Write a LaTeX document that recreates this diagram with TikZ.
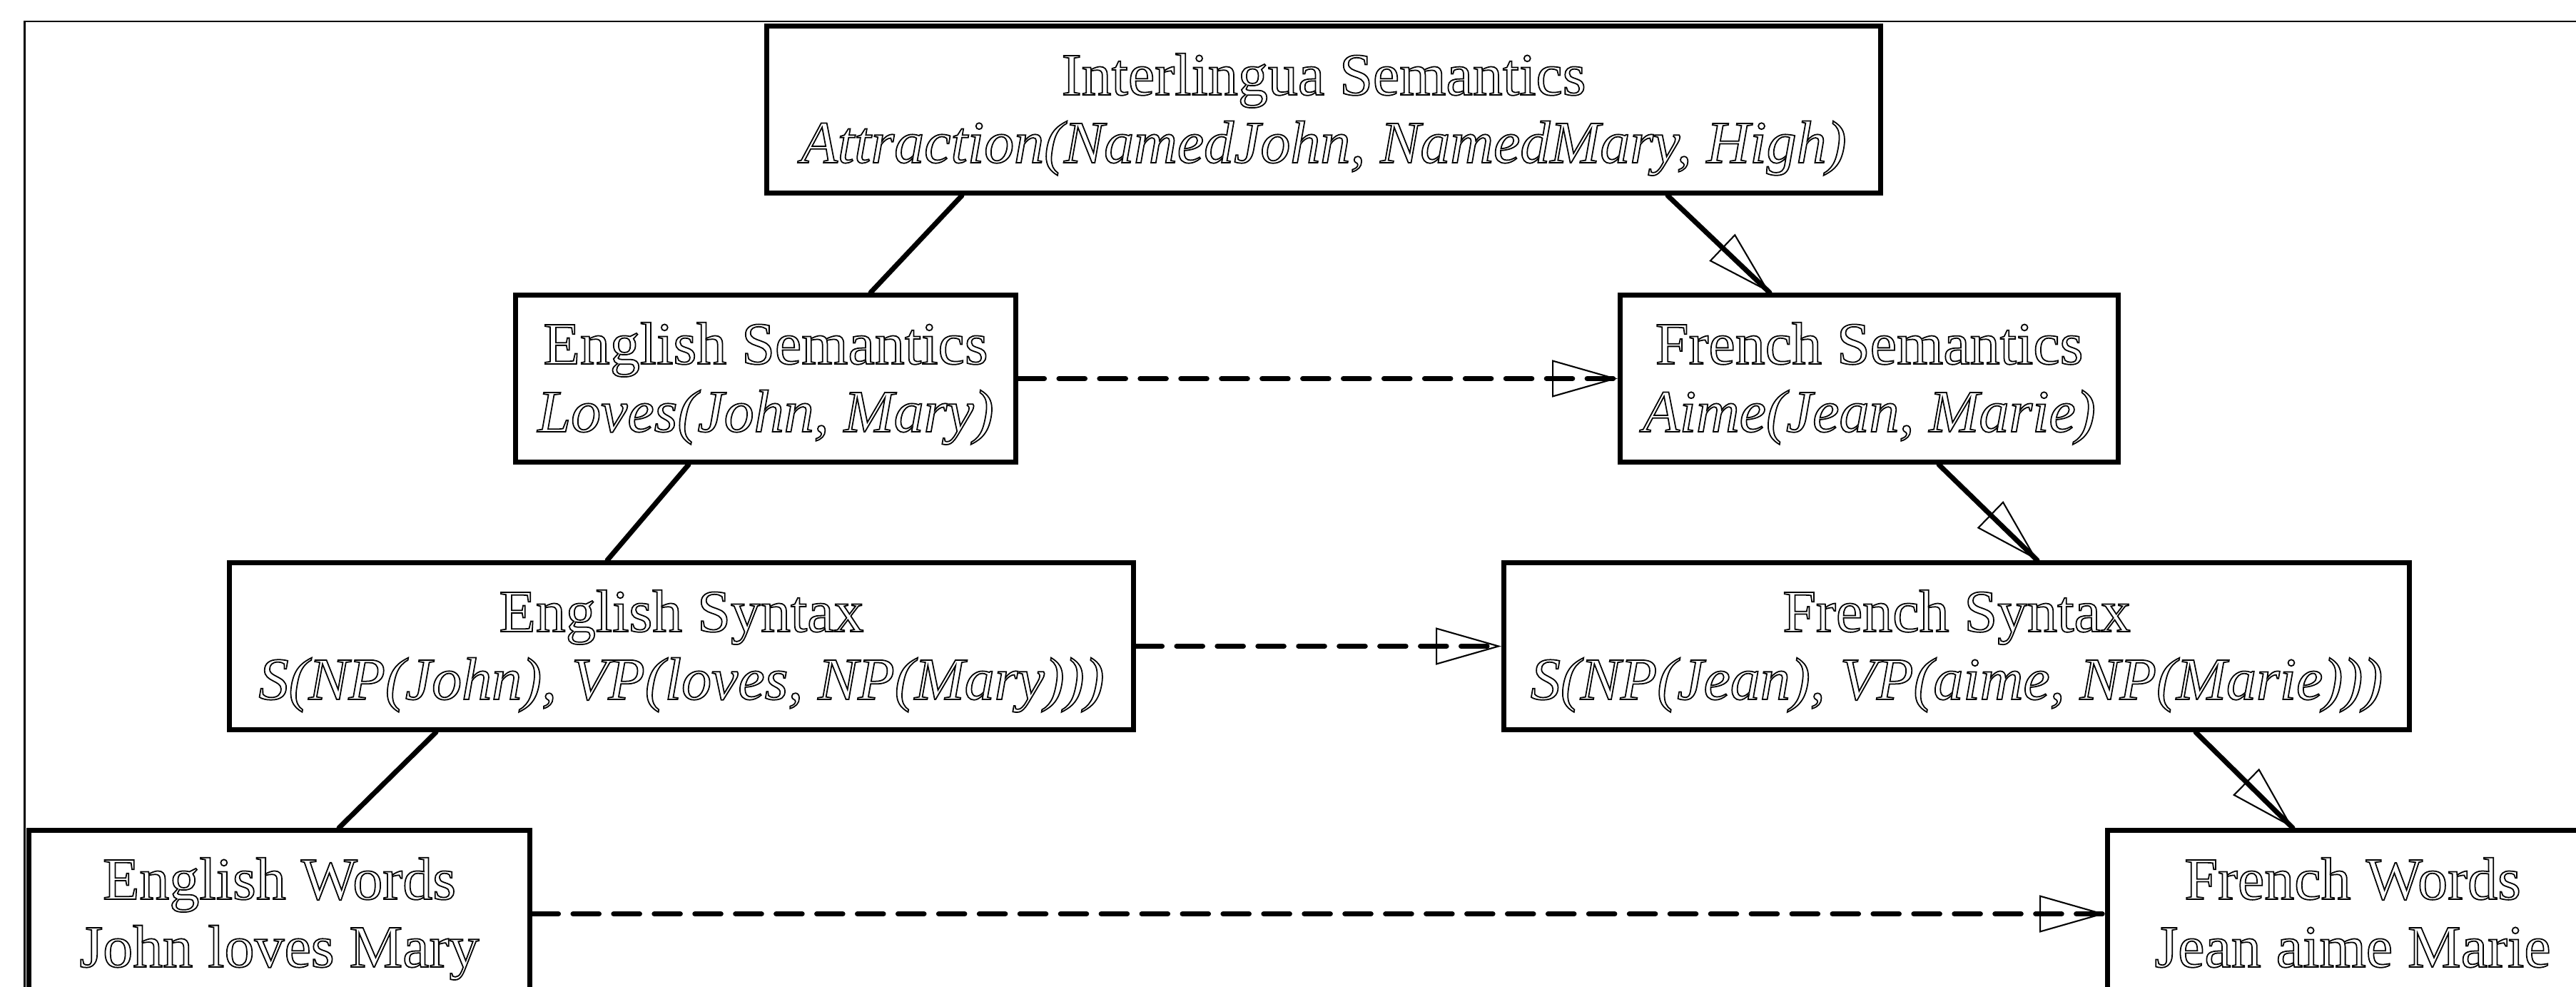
\documentclass[tikz,border=0pt]{standalone}
\usepackage{fontspec}
\setmainfont{Liberation Serif}
\usetikzlibrary{arrows.meta,calc}

\begin{document}
\begin{tikzpicture}[
  box/.style={draw, line width=2pt, rectangle, align=center, inner sep=0pt,
    minimum height=2.34cm, font=\fontsize{23.9pt}{27pt}\selectfont,
    execute at begin node={\special{pdf:literal direct 1 Tr 0.5 w}},
    execute at end node={\special{pdf:literal direct 0 Tr}}},
  link/.style={line width=2pt, line cap=round},
  corr/.style={line width=2pt, line cap=round, dash pattern=on 10.4pt off 5.8pt},
  tip/.style={line width=0.6pt, -{Triangle[open, length=0.92cm, width=0.52cm]}},
  frame/.style={line width=0.6pt}
]
\useasboundingbox (0,0) rectangle (36.10,-13.82);
\clip (0,0) rectangle (36.10,-13.82);

% outer frame
\draw[frame] (0.345,-14.5) -- (0.345,-0.30) -- (36.6,-0.30);

% boxes
\node[box, minimum width=15.61cm] (isem) at (18.55,-1.535)
  {\rule{0pt}{0.72cm}Interlingua Semantics\\
   \textit{Attraction(NamedJohn, NamedMary, High)}\rule[-0.18cm]{0pt}{0.18cm}};
\node[box, minimum width=7.01cm] (esem) at (10.73,-5.305)
  {\rule{0pt}{0.72cm}English Semantics\\
   \textit{Loves(John, Mary)}\rule[-0.18cm]{0pt}{0.18cm}};
\node[box, minimum width=6.98cm] (fsem) at (26.195,-5.305)
  {\rule{0pt}{0.72cm}French Semantics\\
   \textit{Aime(Jean, Marie)}\rule[-0.18cm]{0pt}{0.18cm}};
\node[box, minimum width=12.67cm] (esyn) at (9.55,-9.055)
  {\rule{0pt}{0.72cm}English Syntax\\
   \textit{S(NP(John), VP(loves, NP(Mary)))}\rule[-0.18cm]{0pt}{0.18cm}};
\node[box, minimum width=12.69cm] (fsyn) at (27.42,-9.055)
  {\rule{0pt}{0.72cm}French Syntax\\
   \textit{S(NP(Jean), VP(aime, NP(Marie)))}\rule[-0.18cm]{0pt}{0.18cm}};
\node[box, minimum width=7.02cm] (ewords) at (3.915,-12.805)
  {\rule{0pt}{0.72cm}English Words\\
   John loves Mary\rule[-0.18cm]{0pt}{0.18cm}};
\node[box, minimum width=6.87cm] (fwords) at (32.97,-12.805)
  {\rule{0pt}{0.72cm}French Words\\
   Jean aime Marie\rule[-0.18cm]{0pt}{0.18cm}};

% attachment points of the diagonal links
\coordinate (c1s) at ($(isem.south)+(-5.07,0)$);
\coordinate (c1e) at ($(esem.north)+(1.47,0)$);
\coordinate (c2s) at ($(esem.south)+(-1.08,0)$);
\coordinate (c2e) at ($(esyn.north)+(-1.04,0)$);
\coordinate (c3s) at ($(esyn.south)+(-3.44,0)$);
\coordinate (c3e) at ($(ewords.north)+(0.835,0)$);
\coordinate (a1s) at ($(isem.south)+(4.82,0)$);
\coordinate (a1e) at ($(fsem.north)+(-1.395,0)$);
\coordinate (a2s) at ($(fsem.south)+(0.975,0)$);
\coordinate (a2e) at ($(fsyn.north)+(1.13,0)$);
\coordinate (a3s) at ($(fsyn.south)+(3.35,0)$);
\coordinate (a3e) at ($(fwords.north)+(-0.84,0)$);

% analysis side (plain lines)
\draw[link] (c1s) -- (c1e);
\draw[link] (c2s) -- (c2e);
\draw[link] (c3s) -- (c3e);

% generation side (arrows)
\draw[link] (a1s) -- (a1e);
\draw[tip] ($(a1e)!0.92cm!(a1s)$) -- (a1e);
\draw[link] (a2s) -- (a2e);
\draw[tip] ($(a2e)!0.92cm!(a2s)$) -- (a2e);
\draw[link] (a3s) -- (a3e);
\draw[tip] ($(a3e)!0.92cm!(a3s)$) -- (a3e);

% transfer links (dashed)
\draw[corr] (esem.east) -- (fsem.west);
\draw[tip] ($(fsem.west)!0.92cm!(esem.east)$) -- (fsem.west);
\draw[corr] (esyn.east) -- (fsyn.west);
\draw[tip] ($(fsyn.west)!0.92cm!(esyn.east)$) -- (fsyn.west);
\draw[corr] (ewords.east) -- (fwords.west);
\draw[tip] ($(fwords.west)!0.92cm!(ewords.east)$) -- (fwords.west);
\end{tikzpicture}
\end{document}
